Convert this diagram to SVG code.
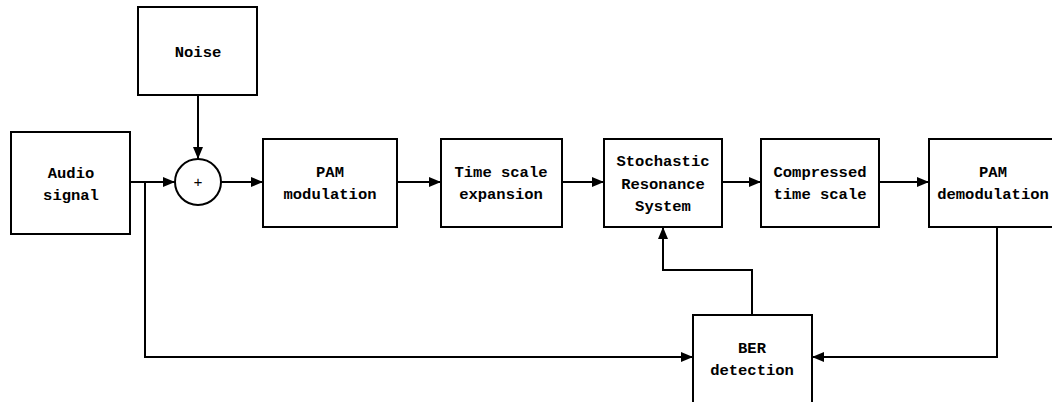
<svg xmlns="http://www.w3.org/2000/svg" width="1052" height="402" viewBox="0 0 1052 402">
<style>
.box{fill:#fff;stroke:#000;stroke-width:2}
.t{font-family:"Liberation Mono","DejaVu Sans Mono",monospace;font-size:15.5px;font-weight:bold;text-anchor:middle;fill:#000}
.p{font-family:"Liberation Mono","DejaVu Sans Mono",monospace;font-size:15px;text-anchor:middle;fill:#000}
.c{fill:none;stroke:#000;stroke-width:2}
</style>
<defs>
<marker id="a" markerUnits="userSpaceOnUse" markerWidth="12" markerHeight="10" refX="12" refY="5" orient="auto"><path d="M0,0 L12,5 L0,10 Z" fill="#000"/></marker>
</defs>
<rect width="1052" height="402" fill="#fff"/>
<g id="connectors">
<path class="c" d="M198,95 V159" marker-end="url(#a)"/>
<path class="c" d="M130,182 H175" marker-end="url(#a)"/>
<path class="c" d="M221,182 H263" marker-end="url(#a)"/>
<path class="c" d="M397,182 H441" marker-end="url(#a)"/>
<path class="c" d="M562,182 H604" marker-end="url(#a)"/>
<path class="c" d="M722,182 H761" marker-end="url(#a)"/>
<path class="c" d="M879,182 H929" marker-end="url(#a)"/>
<path class="c" d="M145,182 V357 H693" marker-end="url(#a)"/>
<path class="c" d="M997,227 V357 H812" marker-end="url(#a)"/>
<path class="c" d="M752,315 V270 H663 V227" marker-end="url(#a)"/>
</g>
<g id="noise"><rect class="box" x="138" y="7" width="119" height="88"/><text class="t" x="198" y="57">Noise</text></g>
<g id="audio"><rect class="box" x="11" y="132" width="119" height="102"/><text class="t" x="71" y="178">Audio</text><text class="t" x="71" y="200">signal</text></g>
<g id="sum"><circle class="box" cx="198" cy="182" r="23"/><text class="p" x="198" y="187">+</text></g>
<g id="pam-mod"><rect class="box" x="263" y="139" width="134" height="88"/><text class="t" x="330" y="177">PAM</text><text class="t" x="330" y="199">modulation</text></g>
<g id="expansion"><rect class="box" x="441" y="139" width="121" height="88"/><text class="t" x="501" y="177">Time scale</text><text class="t" x="501" y="199">expansion</text></g>
<g id="sr"><rect class="box" x="604" y="139" width="118" height="88"/><text class="t" x="663" y="166">Stochastic</text><text class="t" x="663" y="189">Resonance</text><text class="t" x="663" y="211">System</text></g>
<g id="compressed"><rect class="box" x="761" y="139" width="118" height="88"/><text class="t" x="820" y="177">Compressed</text><text class="t" x="820" y="199">time scale</text></g>
<g id="pam-demod"><rect class="box" x="929" y="139" width="130" height="88"/><text class="t" x="993" y="177">PAM</text><text class="t" x="993" y="199">demodulation</text></g>
<g id="ber"><rect class="box" x="693" y="315" width="119" height="95"/><text class="t" x="752" y="353">BER</text><text class="t" x="752" y="375">detection</text></g>
</svg>
